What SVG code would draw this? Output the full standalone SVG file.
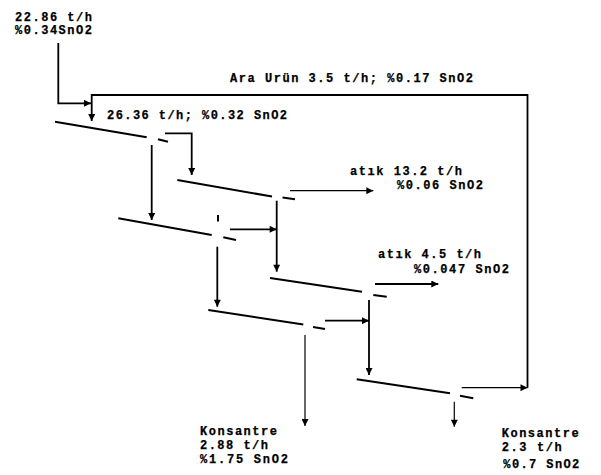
<svg xmlns="http://www.w3.org/2000/svg" width="601" height="475" viewBox="0 0 601 475">
<style>
.t{fill:none;stroke:#000;stroke-width:2;stroke-linecap:butt}
.c{fill:none;stroke:#000;stroke-width:1.8}
.thin{fill:none;stroke:#000;stroke-width:1.2}
text{font-family:"Liberation Mono","DejaVu Sans Mono",monospace;font-weight:bold;font-size:12px;fill:#000;stroke:#000;stroke-width:0.25}
</style>
<defs>
<marker id="ah" viewBox="0 0 10 10" refX="10" refY="5" markerWidth="9" markerHeight="7" orient="auto" markerUnits="userSpaceOnUse">
<path d="M0,0 L10,5 L0,10 z" fill="#000"/>
</marker>
</defs>
<rect width="601" height="475" fill="#fff"/>

<g id="table1">
<line class="t" x1="55" y1="121.7" x2="146.7" y2="137.3"/>
<line class="t" x1="158" y1="139.3" x2="168" y2="141.7"/>
</g>
<g id="table2">
<line class="t" x1="177.3" y1="180" x2="272" y2="196.5"/>
<line class="t" x1="282.5" y1="197.5" x2="295" y2="199.3"/>
</g>
<g id="table3">
<line class="t" x1="118.3" y1="218.3" x2="211.7" y2="235"/>
<line class="t" x1="223.3" y1="237.3" x2="236" y2="240"/>
<line class="t" x1="218" y1="215" x2="218" y2="221.5"/>
</g>
<g id="table4">
<line class="t" x1="270" y1="278" x2="362" y2="291.7"/>
<line class="t" x1="373.3" y1="295" x2="386.7" y2="296.7"/>
</g>
<g id="table5">
<line class="t" x1="208.3" y1="310" x2="303.3" y2="324.5"/>
<line class="t" x1="313" y1="327" x2="325" y2="329"/>
</g>
<g id="table6">
<line class="t" x1="356.7" y1="379.3" x2="450" y2="393.3"/>
<line class="t" x1="460" y1="395.7" x2="473.3" y2="398.3"/>
</g>

<g id="connectors">
<polyline class="c" points="58.3,43 58.3,103.3 91,103.3" marker-end="url(#ah)"/>
<polyline class="c" points="527.5,387.7 527.5,95 91.7,95 91.7,121" marker-end="url(#ah)"/>
<polyline class="c" points="165,133.3 191.7,133.3 191.7,175" marker-end="url(#ah)"/>
<line class="c" x1="151.7" y1="145" x2="151.7" y2="220" marker-end="url(#ah)"/>
<line class="thin" x1="290" y1="190.7" x2="373.3" y2="190.7" marker-end="url(#ah)"/>
<line class="c" x1="276.7" y1="200.7" x2="276.7" y2="271.7" marker-end="url(#ah)"/>
<line class="c" x1="230" y1="229.3" x2="276.7" y2="229.3" marker-end="url(#ah)"/>
<line class="c" x1="217.3" y1="246.7" x2="217.3" y2="306.7" marker-end="url(#ah)"/>
<line class="c" x1="375" y1="284" x2="438.3" y2="284" marker-end="url(#ah)"/>
<line class="c" x1="369" y1="300" x2="369" y2="375" marker-end="url(#ah)"/>
<line class="c" x1="325" y1="320.7" x2="369" y2="320.7" marker-end="url(#ah)"/>
<line class="thin" x1="305" y1="335" x2="305" y2="426" marker-end="url(#ah)"/>
<line class="thin" x1="461.7" y1="387.7" x2="527.5" y2="387.7" marker-end="url(#ah)"/>
<line class="thin" x1="454.3" y1="401.7" x2="454.3" y2="426.7" marker-end="url(#ah)"/>
</g>

<g id="label-feed">
<text x="15" y="20.5" textLength="77" lengthAdjust="spacing">22.86 t/h</text>
<text x="15" y="33.5" textLength="77" lengthAdjust="spacing">%0.34SnO2</text>
</g>
<g id="label-middling">
<text x="230" y="82.3" textLength="243" lengthAdjust="spacing">Ara Urün 3.5 t/h; %0.17 SnO2</text>
</g>
<g id="label-combined">
<text x="107" y="118.5" textLength="180" lengthAdjust="spacing">26.36 t/h; %0.32 SnO2</text>
</g>
<g id="label-tail1">
<text x="350" y="175" textLength="112" lengthAdjust="spacing">atık 13.2 t/h</text>
<text x="397" y="189" textLength="86" lengthAdjust="spacing">%0.06 SnO2</text>
</g>
<g id="label-tail2">
<text x="378" y="258" textLength="103" lengthAdjust="spacing">atık 4.5 t/h</text>
<text x="414" y="273" textLength="95" lengthAdjust="spacing">%0.047 SnO2</text>
</g>
<g id="label-conc1">
<text x="200" y="435" textLength="77" lengthAdjust="spacing">Konsantre</text>
<text x="200" y="448.5" textLength="68" lengthAdjust="spacing">2.88 t/h</text>
<text x="200" y="463" textLength="88" lengthAdjust="spacing">%1.75 SnO2</text>
</g>
<g id="label-conc2">
<text x="501.7" y="436.7" textLength="77" lengthAdjust="spacing">Konsantre</text>
<text x="501.7" y="451" textLength="60" lengthAdjust="spacing">2.3 t/h</text>
<text x="503.3" y="467.5" textLength="76" lengthAdjust="spacing">%0.7 SnO2</text>
</g>
</svg>
